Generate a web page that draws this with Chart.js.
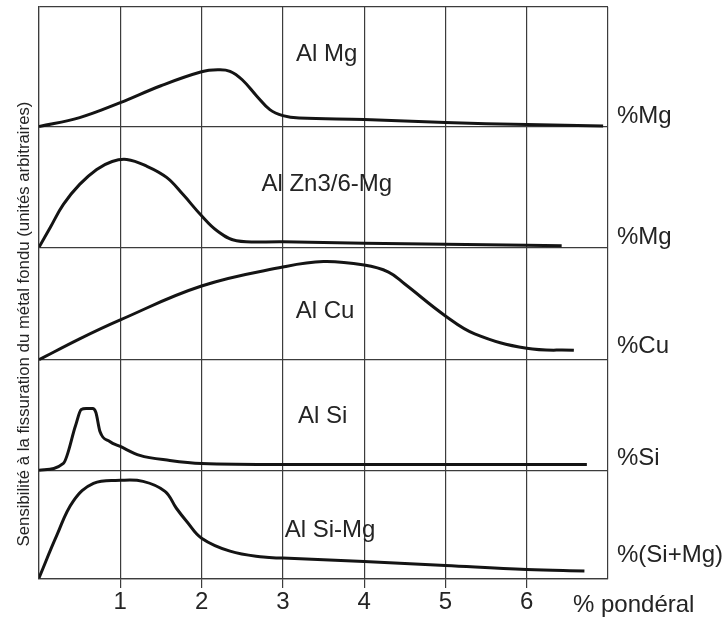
<!DOCTYPE html>
<html>
<head>
<meta charset="utf-8">
<script src="https://cdn.jsdelivr.net/npm/chart.js@4.4.0/dist/chart.umd.min.js"></script>
<style>
  html, body { margin: 0; padding: 0; background: #fff; }
</style>
</head>
<body>
<canvas id="crackChart" width="728" height="617"></canvas>
<script>
// % by weight (x) and sensitivity in arbitrary units above each panel's baseline (y)
const alMgX = [0, 0.5, 1, 1.5, 2, 2.2, 2.35, 2.5, 2.68, 2.84, 3.0, 3.2, 4, 5, 6, 6.94];
const alMgY = [0, 9, 24, 41, 55, 57, 55.5, 47, 30.5, 17, 11, 8.5, 7, 4, 2, 0.5];

const alZnX = [0, 0.14, 0.3, 0.5, 0.71, 0.9, 1.08, 1.32, 1.57, 1.77, 2, 2.19, 2.43, 3, 4, 5, 6, 6.43];
const alZnY = [0, 20, 43, 63, 78, 86, 88, 81.5, 70, 53, 31.5, 16.5, 6.5, 5.5, 4, 3, 2, 1.5];

const alCuX = [0, 0.5, 1, 2, 3, 3.5, 4, 4.3, 4.5, 5, 5.36, 6, 6.58];
const alCuY = [0, 21, 40, 74, 93, 98.5, 95, 88, 76, 44, 26, 11.5, 9.5];

const alSiX = [0, 0.3, 0.45, 0.52, 0.58, 0.66, 0.7, 0.75, 0.87, 1, 1.24, 1.61, 2, 3, 6.74];
const alSiY = [0, 7, 45, 61, 62, 62, 58, 39, 29, 24, 15, 10, 7, 6, 6];

const alSiMgX = [0, 0.22, 0.42, 0.67, 1, 1.28, 1.55, 1.69, 1.82, 2, 2.35, 2.76, 3, 4, 5, 6, 6.71];
const alSiMgY = [1, 44, 78, 96, 99, 98, 88, 71, 57.5, 41, 28, 22, 21, 17.5, 13.5, 9.5, 8];

const panelNames = ["Al Mg", "Al Zn3/6-Mg", "Al Cu", "Al Si", "Al Si-Mg"];
const elementLabels = ["%Mg", "%Mg", "%Cu", "%Si", "%(Si+Mg)"];
const xTickValues = [1, 2, 3, 4, 5, 6];
const xTitle = "% pondéral";
const yTitle = "Sensibilité à la fissuration du métal fondu (unités arbitraires)";

// panel baselines from top to bottom, and top of the frame
const panelBase = [454, 333, 220, 109, 0];
const frameTop = 574;

const seriesX = [alMgX, alZnX, alCuX, alSiX, alSiMgX];
const seriesY = [alMgY, alZnY, alCuY, alSiY, alSiMgY];

const ink = "#141414";
const textInk = "#242424";
const gridInk = "#3c3c3c";
const fontFamily = '"Liberation Sans", Arial, sans-serif';

// where the names sit: x in % and height above the panel baseline
const nameSpots = [
  { x: 3.54, dy: 72 },
  { x: 3.54, dy: 63 },
  { x: 3.52, dy: 49 },
  { x: 3.49, dy: 54 },
  { x: 3.58, dy: 49 },
];
const elementDy = [10, 10, 13, 12, 24];

const datasets = seriesX.map((xs, i) => ({
  label: panelNames[i],
  data: xs.map((x, j) => ({ x: x, y: panelBase[i] + seriesY[i][j] })),
  borderColor: ink,
  borderWidth: 3,
  pointRadius: 0,
  fill: false,
  // the Si peak is sharp, the others are smooth
  cubicInterpolationMode: i === 3 ? "monotone" : "default",
  tension: 0.4,
}));

const panelText = {
  id: "panelText",
  afterDraw(chart) {
    const { ctx, chartArea, scales } = chart;
    const xs = scales.x;
    const ys = scales.y;
    ctx.save();
    ctx.fillStyle = textInk;
    ctx.textBaseline = "middle";
    ctx.font = "24px " + fontFamily;

    ctx.textAlign = "center";
    panelNames.forEach((name, i) => {
      const px = xs.getPixelForValue(nameSpots[i].x);
      const py = ys.getPixelForValue(panelBase[i] + nameSpots[i].dy);
      ctx.fillText(name, px, py);
    });

    ctx.textAlign = "left";
    elementLabels.forEach((lab, i) => {
      const py = ys.getPixelForValue(panelBase[i] + elementDy[i]);
      ctx.fillText(lab, chartArea.right + 9, py);
    });

    ctx.fillText(xTitle, chartArea.right - 35, 605);

    ctx.font = "16.8px " + fontFamily;
    ctx.translate(24, 324);
    ctx.rotate(-Math.PI / 2);
    ctx.textAlign = "center";
    ctx.fillText(yTitle, 0, 0);
    ctx.restore();
  },
};

const crackChart = new Chart(document.querySelector("#crackChart").getContext("2d"), {
  type: "line",
  data: { datasets: datasets },
  options: {
    responsive: false,
    animation: false,
    plugins: {
      legend: { display: false },
      tooltip: { enabled: false },
      title: { display: false },
    },
    layout: {
      padding: { top: 7, right: 120, bottom: 1, left: 39 },
    },
    scales: {
      x: {
        type: "linear",
        min: 0,
        max: 7,
        ticks: {
          stepSize: 1,
          autoSkip: false,
          maxRotation: 0,
          padding: 2,
          color: textInk,
          font: { family: fontFamily, size: 24, lineHeight: 1 },
          callback: (v) => (xTickValues.includes(v) ? String(v) : ""),
        },
        grid: {
          color: gridInk,
          lineWidth: 1.2,
          tickLength: 9,
          tickColor: (c) => (c.tick && xTickValues.includes(c.tick.value) ? gridInk : "rgba(0,0,0,0)"),
        },
        border: { color: gridInk, width: 1.2 },
      },
      y: {
        type: "linear",
        min: 0,
        max: frameTop,
        afterBuildTicks: (scale) => {
          scale.ticks = panelBase.concat([frameTop]).map((v) => ({ value: v }));
        },
        ticks: { display: false },
        grid: { color: gridInk, lineWidth: 1.2, drawTicks: false },
        border: { color: gridInk, width: 1.2 },
      },
    },
  },
  plugins: [panelText],
});
</script>
</body>
</html>
